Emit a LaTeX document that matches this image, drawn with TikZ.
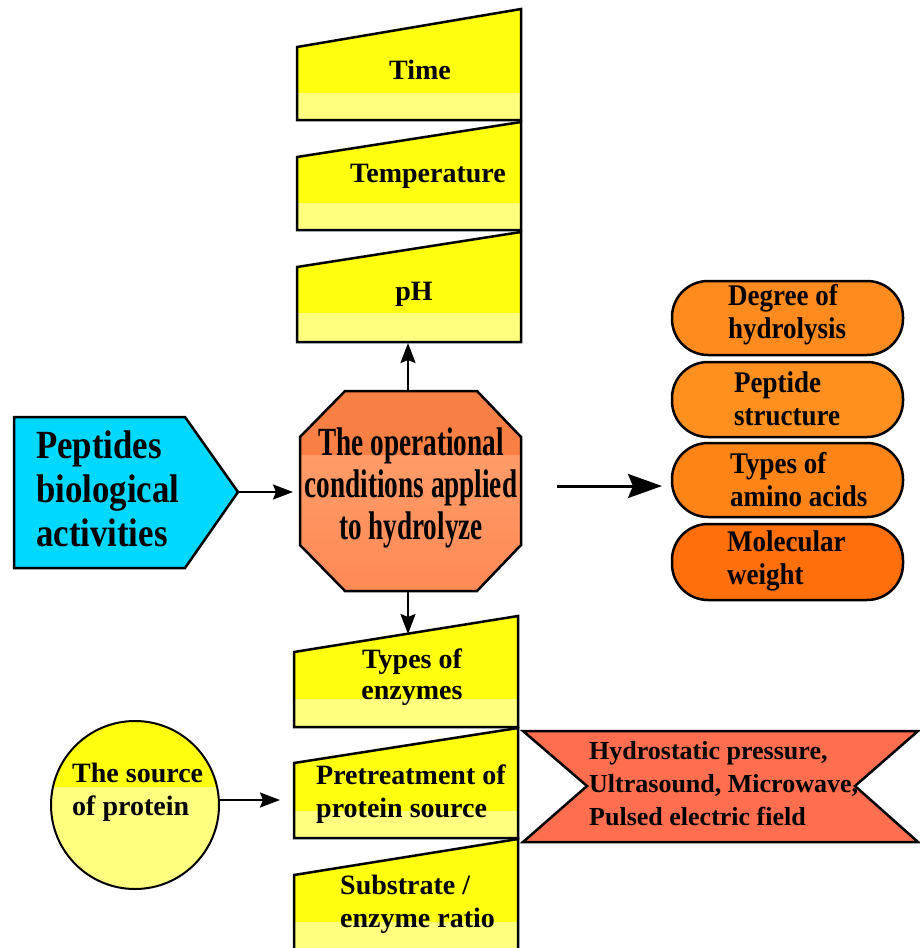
\documentclass[tikz,border=0pt]{standalone}
\usepackage{fontspec}
\setmainfont{Liberation Serif}
\newfontfamily\octfont{Liberation Serif}[FakeStretch=0.68]
\newfontfamily\pentfont{Liberation Serif}[FakeStretch=0.87]
\newfontfamily\pillfont{Liberation Serif}[FakeStretch=0.9]
\usetikzlibrary{arrows.meta}
\definecolor{yelA}{HTML}{FFFF10}
\definecolor{yelB}{HTML}{FFFF80}
\definecolor{octA}{HTML}{F98045}
\definecolor{octB}{HTML}{FF9B68}
\definecolor{octC}{HTML}{FF8A55}
\definecolor{cyanP}{HTML}{00D8FF}
\definecolor{pillA}{HTML}{FF8B1E}
\definecolor{pillB}{HTML}{FF9020}
\definecolor{pillC}{HTML}{FF8418}
\definecolor{pillD}{HTML}{FF700C}
\definecolor{bannerC}{HTML}{FF6E4E}
\newcommand{\yelbox}[6]{%
  \begin{scope}
    \clip (#1,#3) -- (#2,#4) -- (#2,#6) -- (#1,#6) -- cycle;
    \fill[yelA] (#1,#4) rectangle (#2,#5);
    \fill[yelB] (#1,#5) rectangle (#2,#6);
  \end{scope}
  \draw[outl] (#1,#3) -- (#2,#4) -- (#2,#6) -- (#1,#6) -- cycle;}
\tikzset{
  outl/.style={line width=2.5pt, line join=miter},
  lbl/.style={inner sep=0pt, font=\fontsize{28}{34}\selectfont\bfseries},
  pilltxt/.style={inner sep=0pt, align=left, anchor=west, font=\pillfont\fontsize{30}{33}\selectfont\bfseries},
  arr/.style={line width=2.2pt, -{Stealth[length=20pt,width=15pt,inset=3pt]}},
  bigarr/.style={line width=3pt, -{Stealth[length=34pt,width=24pt,inset=5pt]}},
  pill/.style={outl, rounded corners=36pt}
}
\begin{document}
\begin{tikzpicture}[x=1pt,y=-1pt]
\useasboundingbox (0,0) rectangle (920,948);
\clip (0,0) rectangle (920,948);
\fill[white] (0,0) rectangle (920,948);

% top stack
\yelbox{297}{521}{47}{9}{93}{120}
\yelbox{297}{521}{157}{122}{203}{230}
\yelbox{297}{521}{267}{232}{313}{342}
\node[lbl] (time) at (420,70) {Time};
\node[lbl] (temp) at (428,176) {Temperature};
\node[lbl] (ph) at (414,294) {pH};
\coordinate (ph-s) at (408,342);

% bottom stack
\yelbox{294}{518}{652}{616}{699}{727}
\yelbox{294}{518}{763}{728}{811}{838}
\yelbox{294}{518}{875}{839}{922}{970}
\node[lbl, align=center] (enz) at (412,677) {Types of\\[-3pt]enzymes};
\node[lbl, align=left, anchor=west] (pre) at (316,794) {Pretreatment of\\[-1pt]protein source};
\node[lbl, align=left, anchor=west] (sub) at (340,904) {Substrate /\\[-1pt]enzyme ratio};
\coordinate (enz-n) at (408,634);
\coordinate (pre-w) at (294,800);

% octagon
\begin{scope}
  \clip (345,391) -- (477,391) -- (521,437) -- (521,545) -- (477,591) -- (345,591) -- (300,545) -- (300,437) -- cycle;
  \shade[top color=octB, bottom color=octC] (300,455) rectangle (521,591);
  \fill[octA] (300,391) rectangle (521,455);
\end{scope}
\draw[outl] (345,391) -- (477,391) -- (521,437) -- (521,545) -- (477,591) -- (345,591) -- (300,545) -- (300,437) -- cycle;
\node[inner sep=0pt, align=center, font=\octfont\fontsize{40}{42}\selectfont\bfseries] (oct) at (411,488) {The operational\\conditions applied\\to hydrolyze};
\coordinate (oct-n) at (408,391);
\coordinate (oct-s) at (408,591);
\coordinate (oct-w) at (300,492);

% pentagon
\draw[outl, fill=cyanP] (14,417) -- (185,417) -- (238,492) -- (185,568) -- (14,568) -- cycle;
\node[inner sep=0pt, align=left, anchor=west, font=\pentfont\fontsize{40}{44}\selectfont\bfseries] (pep) at (36,489) {Peptides\\biological\\activities};
\coordinate (pep-e) at (236,492);

% right pills
\draw[pill, fill=pillA] (672,281) rectangle (903,355);
\draw[pill, fill=pillB] (672,362) rectangle (903,437);
\draw[pill, fill=pillC] (672,443) rectangle (903,517);
\draw[pill, fill=pillD] (672,524) rectangle (903,600);
\node[pilltxt] (deg) at (728,315) {Degree of\\hydrolysis};
\node[pilltxt] (pst) at (734,399) {Peptide\\structure};
\node[pilltxt] (amn) at (730,480) {Types of\\amino acids};
\node[pilltxt] (mol) at (727,561) {Molecular\\weight};
\coordinate (fa1) at (557,486);
\coordinate (fa2) at (662,486);

% circle
\begin{scope}
  \clip (135,805) circle[radius=84];
  \fill[yelA] (40,715) rectangle (230,787);
  \fill[yelB] (40,787) rectangle (230,895);
\end{scope}
\draw[line width=2pt] (135,805) circle[radius=84];
\node[lbl, align=left, anchor=west] (src) at (72,792) {The source\\[-1pt]of protein};
\coordinate (src-e) at (219,800);

% banner
\draw[outl, fill=bannerC] (523,731) -- (918,731) -- (855,786) -- (918,842) -- (523,842) -- (587,786) -- cycle;
\node[inner sep=0pt, align=left, anchor=west, font=\fontsize{26}{33}\selectfont\bfseries] (ban) at (589,784) {Hydrostatic pressure,\\Ultrasound, Microwave,\\Pulsed electric field};

% connectors
\draw[arr, shorten >=1pt] (oct-n) -- (ph-s);
\draw[arr] (oct-s) -- (enz-n);
\draw[arr, shorten >=7pt] (pep-e) -- (oct-w);
\draw[bigarr] (fa1) -- (fa2);
\draw[arr, shorten >=14pt] (src-e) -- (pre-w);
\end{tikzpicture}
\end{document}
